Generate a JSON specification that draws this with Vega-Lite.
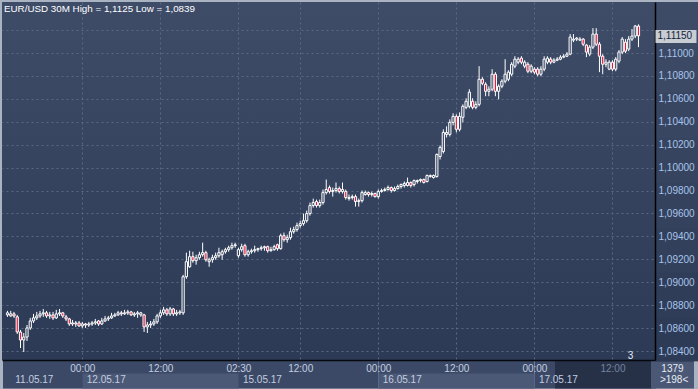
{
"$schema": "https://vega.github.io/schema/vega-lite/v6.json",
"width": 696, "height": 358,
"autosize": {"type": "none"},
"padding": {"left": 2, "top": 2, "right": 0, "bottom": 29},
"background": "#aab3c2",
"title": {"text": "EUR/USD 30M High = 1,1125 Low = 1,0839", "anchor": "start", "frame": "group", "orient": "top", "offset": -22, "dx": 2, "color": "#ffffff", "font": "Liberation Sans", "fontSize": 9.8, "fontWeight": "normal", "baseline": "bottom"},
"config": {
  "view": {"stroke": null, "fill": {"gradient": "linear", "x1": 0, "y1": 0, "x2": 0, "y2": 1, "stops": [{"offset": 0, "color": "#3e4c68"}, {"offset": 1, "color": "#2d3a55"}]}},
  "axis": {"labelFont": "Liberation Sans", "labelFontSize": 10, "labelOverlap": false, "labelFlush": false, "labelBound": false}
},
"data": {"values": [
{"i":0,"o":1.08715,"h":1.08750,"l":1.08698,"c":1.08733},
{"i":1,"o":1.08706,"h":1.08750,"l":1.08698,"c":1.08724},
{"i":2,"o":1.08724,"h":1.08741,"l":1.08689,"c":1.08706},
{"i":3,"o":1.08698,"h":1.08715,"l":1.08549,"c":1.08566},
{"i":4,"o":1.08566,"h":1.08584,"l":1.08426,"c":1.08496},
{"i":5,"o":1.08496,"h":1.08557,"l":1.08391,"c":1.08522},
{"i":6,"o":1.08522,"h":1.08627,"l":1.08487,"c":1.08601},
{"i":7,"o":1.08601,"h":1.08689,"l":1.08584,"c":1.08662},
{"i":8,"o":1.08662,"h":1.08724,"l":1.08645,"c":1.08689},
{"i":9,"o":1.08689,"h":1.08741,"l":1.08671,"c":1.08706},
{"i":10,"o":1.08706,"h":1.08750,"l":1.08689,"c":1.08724},
{"i":11,"o":1.08724,"h":1.08767,"l":1.08698,"c":1.08733},
{"i":12,"o":1.08733,"h":1.08750,"l":1.08689,"c":1.08706},
{"i":13,"o":1.08706,"h":1.08741,"l":1.08680,"c":1.08715},
{"i":14,"o":1.08715,"h":1.08741,"l":1.08671,"c":1.08689},
{"i":15,"o":1.08689,"h":1.08759,"l":1.08680,"c":1.08724},
{"i":16,"o":1.08724,"h":1.08767,"l":1.08706,"c":1.08733},
{"i":17,"o":1.08733,"h":1.08741,"l":1.08689,"c":1.08706},
{"i":18,"o":1.08698,"h":1.08715,"l":1.08662,"c":1.08680},
{"i":19,"o":1.08680,"h":1.08689,"l":1.08619,"c":1.08636},
{"i":20,"o":1.08636,"h":1.08671,"l":1.08619,"c":1.08645},
{"i":21,"o":1.08645,"h":1.08662,"l":1.08610,"c":1.08636},
{"i":22,"o":1.08645,"h":1.08662,"l":1.08610,"c":1.08619},
{"i":23,"o":1.08619,"h":1.08654,"l":1.08601,"c":1.08636},
{"i":24,"o":1.08636,"h":1.08645,"l":1.08601,"c":1.08627},
{"i":25,"o":1.08627,"h":1.08654,"l":1.08610,"c":1.08636},
{"i":26,"o":1.08636,"h":1.08662,"l":1.08619,"c":1.08645},
{"i":27,"o":1.08645,"h":1.08680,"l":1.08627,"c":1.08654},
{"i":28,"o":1.08662,"h":1.08671,"l":1.08619,"c":1.08636},
{"i":29,"o":1.08636,"h":1.08689,"l":1.08627,"c":1.08662},
{"i":30,"o":1.08662,"h":1.08706,"l":1.08654,"c":1.08680},
{"i":31,"o":1.08680,"h":1.08706,"l":1.08662,"c":1.08689},
{"i":32,"o":1.08689,"h":1.08733,"l":1.08680,"c":1.08706},
{"i":33,"o":1.08706,"h":1.08733,"l":1.08698,"c":1.08715},
{"i":34,"o":1.08715,"h":1.08750,"l":1.08706,"c":1.08733},
{"i":35,"o":1.08733,"h":1.08750,"l":1.08706,"c":1.08724},
{"i":36,"o":1.08724,"h":1.08759,"l":1.08715,"c":1.08733},
{"i":37,"o":1.08733,"h":1.08759,"l":1.08715,"c":1.08741},
{"i":38,"o":1.08741,"h":1.08750,"l":1.08706,"c":1.08715},
{"i":39,"o":1.08715,"h":1.08741,"l":1.08698,"c":1.08724},
{"i":40,"o":1.08724,"h":1.08750,"l":1.08689,"c":1.08733},
{"i":41,"o":1.08715,"h":1.08741,"l":1.08698,"c":1.08733},
{"i":42,"o":1.08715,"h":1.08724,"l":1.08566,"c":1.08610},
{"i":43,"o":1.08610,"h":1.08654,"l":1.08557,"c":1.08627},
{"i":44,"o":1.08627,"h":1.08662,"l":1.08601,"c":1.08636},
{"i":45,"o":1.08636,"h":1.08680,"l":1.08619,"c":1.08654},
{"i":46,"o":1.08654,"h":1.08724,"l":1.08636,"c":1.08706},
{"i":47,"o":1.08706,"h":1.08759,"l":1.08689,"c":1.08733},
{"i":48,"o":1.08733,"h":1.08785,"l":1.08715,"c":1.08759},
{"i":49,"o":1.08759,"h":1.08776,"l":1.08706,"c":1.08724},
{"i":50,"o":1.08724,"h":1.08785,"l":1.08706,"c":1.08767},
{"i":51,"o":1.08767,"h":1.08776,"l":1.08706,"c":1.08724},
{"i":52,"o":1.08724,"h":1.08759,"l":1.08706,"c":1.08733},
{"i":53,"o":1.08733,"h":1.08759,"l":1.08715,"c":1.08741},
{"i":54,"o":1.08733,"h":1.09065,"l":1.08715,"c":1.09048},
{"i":55,"o":1.09048,"h":1.09258,"l":1.09030,"c":1.09179},
{"i":56,"o":1.09135,"h":1.09275,"l":1.09126,"c":1.09223},
{"i":57,"o":1.09223,"h":1.09266,"l":1.09170,"c":1.09188},
{"i":58,"o":1.09188,"h":1.09240,"l":1.09153,"c":1.09214},
{"i":59,"o":1.09214,"h":1.09266,"l":1.09196,"c":1.09240},
{"i":60,"o":1.09240,"h":1.09345,"l":1.09223,"c":1.09258},
{"i":61,"o":1.09258,"h":1.09275,"l":1.09179,"c":1.09196},
{"i":62,"o":1.09179,"h":1.09214,"l":1.09135,"c":1.09196},
{"i":63,"o":1.09196,"h":1.09240,"l":1.09170,"c":1.09214},
{"i":64,"o":1.09214,"h":1.09258,"l":1.09196,"c":1.09231},
{"i":65,"o":1.09231,"h":1.09301,"l":1.09214,"c":1.09258},
{"i":66,"o":1.09240,"h":1.09284,"l":1.09196,"c":1.09266},
{"i":67,"o":1.09266,"h":1.09301,"l":1.09249,"c":1.09284},
{"i":68,"o":1.09284,"h":1.09319,"l":1.09266,"c":1.09301},
{"i":69,"o":1.09301,"h":1.09345,"l":1.09284,"c":1.09319},
{"i":70,"o":1.09319,"h":1.09345,"l":1.09301,"c":1.09327},
{"i":71,"o":1.09231,"h":1.09301,"l":1.09214,"c":1.09284},
{"i":72,"o":1.09284,"h":1.09336,"l":1.09266,"c":1.09310},
{"i":73,"o":1.09319,"h":1.09336,"l":1.09223,"c":1.09240},
{"i":74,"o":1.09240,"h":1.09284,"l":1.09223,"c":1.09266},
{"i":75,"o":1.09266,"h":1.09293,"l":1.09249,"c":1.09275},
{"i":76,"o":1.09275,"h":1.09319,"l":1.09258,"c":1.09284},
{"i":77,"o":1.09284,"h":1.09301,"l":1.09266,"c":1.09293},
{"i":78,"o":1.09293,"h":1.09319,"l":1.09275,"c":1.09301},
{"i":79,"o":1.09301,"h":1.09319,"l":1.09275,"c":1.09310},
{"i":80,"o":1.09310,"h":1.09319,"l":1.09258,"c":1.09275},
{"i":81,"o":1.09275,"h":1.09310,"l":1.09266,"c":1.09284},
{"i":82,"o":1.09284,"h":1.09327,"l":1.09275,"c":1.09310},
{"i":83,"o":1.09327,"h":1.09336,"l":1.09275,"c":1.09293},
{"i":84,"o":1.09293,"h":1.09424,"l":1.09284,"c":1.09406},
{"i":85,"o":1.09406,"h":1.09433,"l":1.09354,"c":1.09371},
{"i":86,"o":1.09371,"h":1.09415,"l":1.09345,"c":1.09389},
{"i":87,"o":1.09389,"h":1.09476,"l":1.09371,"c":1.09441},
{"i":88,"o":1.09441,"h":1.09485,"l":1.09424,"c":1.09459},
{"i":89,"o":1.09459,"h":1.09520,"l":1.09441,"c":1.09494},
{"i":90,"o":1.09494,"h":1.09537,"l":1.09476,"c":1.09511},
{"i":91,"o":1.09511,"h":1.09599,"l":1.09494,"c":1.09537},
{"i":92,"o":1.09537,"h":1.09625,"l":1.09520,"c":1.09599},
{"i":93,"o":1.09599,"h":1.09695,"l":1.09581,"c":1.09669},
{"i":94,"o":1.09669,"h":1.09730,"l":1.09651,"c":1.09695},
{"i":95,"o":1.09704,"h":1.09721,"l":1.09651,"c":1.09669},
{"i":96,"o":1.09669,"h":1.09721,"l":1.09651,"c":1.09695},
{"i":97,"o":1.09695,"h":1.09809,"l":1.09677,"c":1.09782},
{"i":98,"o":1.09782,"h":1.09896,"l":1.09765,"c":1.09809},
{"i":99,"o":1.09826,"h":1.09844,"l":1.09774,"c":1.09791},
{"i":100,"o":1.09791,"h":1.09826,"l":1.09747,"c":1.09800},
{"i":101,"o":1.09800,"h":1.09870,"l":1.09782,"c":1.09817},
{"i":102,"o":1.09817,"h":1.09835,"l":1.09774,"c":1.09791},
{"i":103,"o":1.09791,"h":1.09870,"l":1.09774,"c":1.09809},
{"i":104,"o":1.09791,"h":1.09809,"l":1.09721,"c":1.09739},
{"i":105,"o":1.09730,"h":1.09765,"l":1.09712,"c":1.09739},
{"i":106,"o":1.09739,"h":1.09765,"l":1.09721,"c":1.09747},
{"i":107,"o":1.09747,"h":1.09765,"l":1.09660,"c":1.09704},
{"i":108,"o":1.09704,"h":1.09730,"l":1.09660,"c":1.09712},
{"i":109,"o":1.09712,"h":1.09800,"l":1.09695,"c":1.09782},
{"i":110,"o":1.09765,"h":1.09800,"l":1.09756,"c":1.09782},
{"i":111,"o":1.09782,"h":1.09791,"l":1.09747,"c":1.09765},
{"i":112,"o":1.09765,"h":1.09791,"l":1.09747,"c":1.09774},
{"i":113,"o":1.09774,"h":1.09782,"l":1.09739,"c":1.09747},
{"i":114,"o":1.09747,"h":1.09809,"l":1.09730,"c":1.09791},
{"i":115,"o":1.09791,"h":1.09817,"l":1.09782,"c":1.09800},
{"i":116,"o":1.09800,"h":1.09826,"l":1.09791,"c":1.09809},
{"i":117,"o":1.09809,"h":1.09844,"l":1.09800,"c":1.09826},
{"i":118,"o":1.09826,"h":1.09835,"l":1.09782,"c":1.09800},
{"i":119,"o":1.09800,"h":1.09835,"l":1.09791,"c":1.09817},
{"i":120,"o":1.09817,"h":1.09852,"l":1.09809,"c":1.09835},
{"i":121,"o":1.09835,"h":1.09861,"l":1.09817,"c":1.09852},
{"i":122,"o":1.09844,"h":1.09879,"l":1.09826,"c":1.09861},
{"i":123,"o":1.09844,"h":1.09913,"l":1.09835,"c":1.09870},
{"i":124,"o":1.09870,"h":1.09879,"l":1.09826,"c":1.09844},
{"i":125,"o":1.09852,"h":1.09896,"l":1.09835,"c":1.09887},
{"i":126,"o":1.09879,"h":1.09896,"l":1.09861,"c":1.09887},
{"i":127,"o":1.09887,"h":1.09905,"l":1.09870,"c":1.09896},
{"i":128,"o":1.09896,"h":1.09905,"l":1.09861,"c":1.09870},
{"i":129,"o":1.09879,"h":1.09940,"l":1.09870,"c":1.09931},
{"i":130,"o":1.09922,"h":1.09940,"l":1.09913,"c":1.09931},
{"i":131,"o":1.09913,"h":1.09940,"l":1.09905,"c":1.09931},
{"i":132,"o":1.09922,"h":1.10123,"l":1.09913,"c":1.10115},
{"i":133,"o":1.10097,"h":1.10193,"l":1.10071,"c":1.10176},
{"i":134,"o":1.10141,"h":1.10334,"l":1.10123,"c":1.10307},
{"i":135,"o":1.10290,"h":1.10360,"l":1.10263,"c":1.10307},
{"i":136,"o":1.10290,"h":1.10421,"l":1.10272,"c":1.10395},
{"i":137,"o":1.10395,"h":1.10474,"l":1.10369,"c":1.10447},
{"i":138,"o":1.10447,"h":1.10465,"l":1.10307,"c":1.10334},
{"i":139,"o":1.10334,"h":1.10482,"l":1.10316,"c":1.10447},
{"i":140,"o":1.10439,"h":1.10552,"l":1.10395,"c":1.10535},
{"i":141,"o":1.10526,"h":1.10605,"l":1.10509,"c":1.10579},
{"i":142,"o":1.10535,"h":1.10684,"l":1.10517,"c":1.10658},
{"i":143,"o":1.10579,"h":1.10605,"l":1.10509,"c":1.10526},
{"i":144,"o":1.10526,"h":1.10579,"l":1.10509,"c":1.10552},
{"i":145,"o":1.10552,"h":1.10885,"l":1.10535,"c":1.10771},
{"i":146,"o":1.10771,"h":1.10789,"l":1.10719,"c":1.10736},
{"i":147,"o":1.10727,"h":1.10745,"l":1.10623,"c":1.10666},
{"i":148,"o":1.10666,"h":1.10710,"l":1.10623,"c":1.10684},
{"i":149,"o":1.10684,"h":1.10859,"l":1.10666,"c":1.10815},
{"i":150,"o":1.10815,"h":1.10833,"l":1.10623,"c":1.10666},
{"i":151,"o":1.10666,"h":1.10727,"l":1.10596,"c":1.10710},
{"i":152,"o":1.10710,"h":1.10771,"l":1.10693,"c":1.10754},
{"i":153,"o":1.10754,"h":1.10946,"l":1.10736,"c":1.10815},
{"i":154,"o":1.10771,"h":1.10850,"l":1.10754,"c":1.10833},
{"i":155,"o":1.10815,"h":1.10920,"l":1.10797,"c":1.10902},
{"i":156,"o":1.10885,"h":1.10972,"l":1.10867,"c":1.10946},
{"i":157,"o":1.10920,"h":1.10964,"l":1.10902,"c":1.10946},
{"i":158,"o":1.10955,"h":1.10972,"l":1.10902,"c":1.10920},
{"i":159,"o":1.10885,"h":1.10937,"l":1.10867,"c":1.10920},
{"i":160,"o":1.10902,"h":1.10920,"l":1.10824,"c":1.10841},
{"i":161,"o":1.10841,"h":1.10902,"l":1.10824,"c":1.10885},
{"i":162,"o":1.10859,"h":1.10876,"l":1.10815,"c":1.10833},
{"i":163,"o":1.10859,"h":1.10876,"l":1.10797,"c":1.10815},
{"i":164,"o":1.10815,"h":1.10885,"l":1.10797,"c":1.10859},
{"i":165,"o":1.10859,"h":1.10972,"l":1.10841,"c":1.10946},
{"i":166,"o":1.10920,"h":1.10972,"l":1.10902,"c":1.10955},
{"i":167,"o":1.10946,"h":1.10964,"l":1.10902,"c":1.10920},
{"i":168,"o":1.10920,"h":1.10955,"l":1.10911,"c":1.10937},
{"i":169,"o":1.10937,"h":1.10964,"l":1.10929,"c":1.10946},
{"i":170,"o":1.10946,"h":1.10981,"l":1.10937,"c":1.10964},
{"i":171,"o":1.10964,"h":1.10990,"l":1.10955,"c":1.10972},
{"i":172,"o":1.10972,"h":1.11008,"l":1.10964,"c":1.10990},
{"i":173,"o":1.10990,"h":1.11165,"l":1.10981,"c":1.11139},
{"i":174,"o":1.11112,"h":1.11165,"l":1.11095,"c":1.11121},
{"i":175,"o":1.11121,"h":1.11139,"l":1.11104,"c":1.11130},
{"i":176,"o":1.11112,"h":1.11139,"l":1.11104,"c":1.11121},
{"i":177,"o":1.11121,"h":1.11130,"l":1.11060,"c":1.11077},
{"i":178,"o":1.11069,"h":1.11077,"l":1.10964,"c":1.11008},
{"i":179,"o":1.10990,"h":1.11069,"l":1.10972,"c":1.11051},
{"i":180,"o":1.11051,"h":1.11217,"l":1.11034,"c":1.11165},
{"i":181,"o":1.11165,"h":1.11217,"l":1.11060,"c":1.11077},
{"i":182,"o":1.11077,"h":1.11095,"l":1.10833,"c":1.10972},
{"i":183,"o":1.10972,"h":1.10990,"l":1.10815,"c":1.10902},
{"i":184,"o":1.10902,"h":1.10946,"l":1.10876,"c":1.10920},
{"i":185,"o":1.10859,"h":1.10937,"l":1.10850,"c":1.10920},
{"i":186,"o":1.10920,"h":1.10937,"l":1.10841,"c":1.10859},
{"i":187,"o":1.10859,"h":1.10964,"l":1.10841,"c":1.10946},
{"i":188,"o":1.10929,"h":1.11025,"l":1.10911,"c":1.11008},
{"i":189,"o":1.11008,"h":1.11139,"l":1.10990,"c":1.11121},
{"i":190,"o":1.11095,"h":1.11121,"l":1.10999,"c":1.11016},
{"i":191,"o":1.11034,"h":1.11148,"l":1.11016,"c":1.11121},
{"i":192,"o":1.11121,"h":1.11209,"l":1.11104,"c":1.11148},
{"i":193,"o":1.11148,"h":1.11245,"l":1.11130,"c":1.11235},
{"i":194,"o":1.11235,"h":1.11250,"l":1.11051,"c":1.11150}
]},
"resolve": {"axis": {"x": "independent", "y": "independent"}},
"layer": [
  {
    "mark": {"type": "rule", "color": "#ffffff", "strokeWidth": 1},
    "encoding": {
      "x": {"field": "i", "type": "quantitative", "scale": {"domain": [-0.1515, 210.76], "nice": false, "zero": false},
        "axis": {
          "orient": "bottom", "offset": 0, "title": null,
          "values": [98.79, 183.03, 204.3, 23, 47, 71, 90, 114, 138, 162, 186, 191.4],
          "tickSize": 28, "domain": true, "domainColor": "#05080f", "domainWidth": 1.5,
          "labelPadding": {"condition": {"test": "datum.value > 191 && datum.value < 192", "value": -38}, "value": -25},
          "grid": true, "gridDash": [2, 3], "gridColor": "#5b6985",
          "gridOpacity": {"condition": {"test": "(datum.value > 97 && datum.value < 100) || (datum.value > 183 && datum.value < 184) || (datum.value > 191 && datum.value < 192) || datum.value > 200", "value": 0}, "value": 1},
          "tickColor": {"condition": [
            {"test": "datum.value == 98.79", "value": "#3b4966"},
            {"test": "datum.value == 183.03", "value": "#263148"},
            {"test": "datum.value == 204.3", "value": "#4a5876"},
            {"test": "datum.value == 23 || datum.value == 71 || datum.value == 114 || datum.value == 162", "value": "#6b7994"}
          ], "value": "transparent"},
          "tickWidth": {"condition": [
            {"test": "datum.value == 98.79", "value": 653},
            {"test": "datum.value == 183.03", "value": 97},
            {"test": "datum.value == 204.3", "value": 43}
          ], "value": 1},
          "labelExpr": "datum.value == 23 || datum.value == 114 || datum.value == 162 ? '00:00' : (datum.value == 47 || datum.value == 90 || datum.value == 138 || datum.value == 186) ? '12:00' : datum.value == 71 ? '02:30' : datum.value == 204.3 ? '1379' : (datum.value > 191 && datum.value < 192) ? '3' : ''",
          "labelColor": {"condition": [
            {"test": "datum.value == 186", "value": "#75839c"},
            {"test": "datum.value == 204.3", "value": "#e6ebf2"},
            {"test": "datum.value > 191 && datum.value < 192", "value": "#e6ebf2"}
          ], "value": "#c3cde0"}
        }
      },
      "y": {"field": "l", "type": "quantitative", "scale": {"domain": [1.083215, 1.11445], "nice": false, "zero": false},
        "axis": {
          "orient": "right", "offset": -43, "title": null,
          "values": [1.112487, 1.108561, 1.104634, 1.100708, 1.096782, 1.092856, 1.088929, 1.08509, 1.084, 1.086, 1.088, 1.09, 1.092, 1.094, 1.096, 1.098, 1.1, 1.102, 1.104, 1.106, 1.108, 1.11, 1.112],
          "tickSize": 43, "labelPadding": -40, "domainColor": "#000000", "domainWidth": 1.5,
          "grid": true, "gridDash": [2, 3], "gridColor": "#5b6985",
          "gridOpacity": {"condition": {"test": "abs(datum.value*500 - round(datum.value*500)) > 0.01", "value": 0}, "value": 1},
          "tickColor": {"condition": [
            {"test": "datum.value == 1.112487", "value": "#3d4b67"},
            {"test": "datum.value == 1.108561", "value": "#3b4964"},
            {"test": "datum.value == 1.104634", "value": "#394662"},
            {"test": "datum.value == 1.100708", "value": "#37445f"},
            {"test": "datum.value == 1.096782", "value": "#34425d"},
            {"test": "datum.value == 1.092856", "value": "#32405b"},
            {"test": "datum.value == 1.088929", "value": "#303d58"},
            {"test": "datum.value == 1.08509", "value": "#2e3b56"}
          ], "value": "transparent"},
          "tickWidth": {"condition": {"test": "datum.value == 1.08509", "value": 43}, "value": 45},
          "labelExpr": "abs(datum.value*500 - round(datum.value*500)) > 0.01 || datum.value > 1.1115 ? '' : replace(format(datum.value, '.5f'), '.', ',')",
          "labelColor": "#a8c4ea"
        }
      },
      "y2": {"field": "h"}
    }
  },
  {
    "mark": {"type": "bar", "size": 2.2, "stroke": "#ffffff", "strokeWidth": 1},
    "encoding": {
      "x": {"field": "i", "type": "quantitative",
        "axis": {
          "orient": "bottom", "offset": 13, "title": null, "domain": false, "grid": false,
          "values": [47, 138, 1, 23, 71, 114, 162, 199.2],
          "tickSize": 15, "labelPadding": -14, "labelAlign": "left", "labelOffset": 4,
          "tickColor": {"condition": {"test": "datum.value == 47 || datum.value == 138", "value": "#4b5976"}, "value": "transparent"},
          "tickWidth": {"condition": {"test": "datum.value == 47 || datum.value == 138", "value": 156}, "value": 1},
          "labelExpr": "datum.value == 1 ? '11.05.17' : datum.value == 23 ? '12.05.17' : datum.value == 71 ? '15.05.17' : datum.value == 114 ? '16.05.17' : datum.value == 162 ? '17.05.17' : datum.value > 199 ? '>198<' : ''",
          "labelColor": {"condition": {"test": "datum.value > 199", "value": "#e6ebf2"}, "value": "#c3cde0"}
        }
      },
      "y": {"field": "o", "type": "quantitative",
        "axis": {
          "orient": "right", "offset": -43, "title": null, "domain": false, "grid": false,
          "values": [1.1115], "tickSize": 41, "tickWidth": 13, "tickColor": "#c8ccd3", "labelPadding": -39,
          "labelExpr": "'1,11150'", "labelColor": "#15233b"
        }
      },
      "y2": {"field": "c"},
      "fill": {"condition": {"test": "datum.c < datum.o", "value": "#e01a3c"}, "field": "o", "type": "quantitative", "scale": {"domain": [1.0832, 1.1145], "range": ["#2d3a55", "#3e4c68"]}, "legend": null}
    }
  }
]
}
